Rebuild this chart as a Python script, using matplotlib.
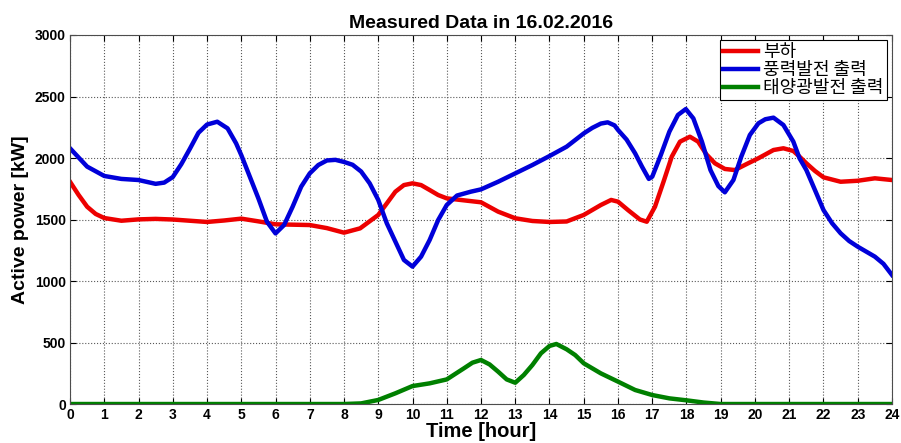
import numpy as np
import matplotlib
matplotlib.use('Agg')
import matplotlib.pyplot as plt

plt.rcParams['font.family'] = ['Liberation Sans', 'Noto Sans CJK KR', 'DejaVu Sans']

# load (부하)
load_t = [0, 0.25, 0.5, 0.75, 1, 1.5, 2, 2.5, 3, 3.5, 4, 4.5, 5, 5.5, 6, 6.5, 7,
          7.5, 8, 8.47, 9, 9.25, 9.5, 9.75, 10, 10.25, 10.5, 10.75, 11, 11.4, 12,
          12.5, 13, 13.5, 14, 14.5, 15, 15.5, 15.8, 16, 16.3, 16.64, 16.84, 17.08,
          17.33, 17.57, 17.81, 18.1, 18.34, 18.58, 18.83, 19.12, 19.41, 19.75,
          20.1, 20.54, 20.83, 21.12, 21.3, 21.5, 21.75, 22, 22.5, 23, 23.5, 24]
load_kw = [1807, 1700, 1604, 1545, 1512, 1490, 1501, 1505, 1500, 1490, 1480, 1492,
           1507, 1485, 1461, 1458, 1455, 1430, 1393, 1428, 1537, 1631, 1726, 1780,
           1794, 1780, 1740, 1699, 1672, 1659, 1640, 1564, 1510, 1488, 1480, 1484,
           1537, 1618, 1659, 1645, 1575, 1500, 1482, 1604, 1808, 2011, 2133, 2173,
           2133, 2030, 1957, 1911, 1902, 1950, 1998, 2065, 2079, 2057, 2011, 1957,
           1895, 1843, 1807, 1815, 1835, 1821]

# wind (풍력발전 출력)
wind_t = [0, 0.5, 1, 1.5, 2, 2.5, 2.75, 3, 3.25, 3.5, 3.75, 4, 4.3, 4.6, 4.85, 5,
          5.25, 5.5, 5.75, 6, 6.25, 6.5, 6.75, 7, 7.25, 7.5, 7.75, 8, 8.25, 8.5,
          8.75, 9, 9.25, 9.5, 9.75, 10, 10.25, 10.5, 10.75, 11, 11.3, 11.7, 12,
          12.5, 13, 13.5, 14, 14.5, 15, 15.25, 15.5, 15.7, 15.9, 16, 16.25, 16.5,
          16.7, 16.9, 17, 17.25, 17.5, 17.75, 17.98, 18.2, 18.45, 18.7, 18.93,
          19.12, 19.37, 19.6, 19.85, 20.1, 20.3, 20.54, 20.83, 21.12, 21.3, 21.5,
          21.75, 22, 22.25, 22.5, 22.75, 23, 23.5, 23.75, 24]
wind_kw = [2079, 1930, 1854, 1830, 1821, 1790, 1800, 1845, 1950, 2075, 2205, 2272,
           2295, 2241, 2119, 2024, 1848, 1672, 1482, 1387, 1455, 1604, 1767, 1875,
           1943, 1980, 1985, 1968, 1945, 1890, 1794, 1659, 1469, 1320, 1171, 1117,
           1198, 1333, 1496, 1618, 1695, 1726, 1745, 1807, 1875, 1943, 2016, 2092,
           2200, 2245, 2280, 2290, 2265, 2228, 2150, 2038, 1930, 1830, 1848, 2024,
           2214, 2350, 2398, 2322, 2133, 1902, 1772, 1721, 1821, 2011, 2187, 2282,
           2315, 2328, 2268, 2133, 1998, 1902, 1740, 1577, 1470, 1388, 1325, 1279,
           1198, 1140, 1049]

# solar (태양광발전 출력)
solar_t = [0, 1, 2, 3, 4, 5, 6, 7, 8, 8.5, 9, 9.5, 10, 10.5, 11, 11.5, 11.75, 12,
           12.25, 12.5, 12.75, 13, 13.25, 13.5, 13.75, 14, 14.2, 14.5, 14.75, 15,
           15.5, 16, 16.5, 17, 17.5, 18, 18.5, 19, 20, 21, 22, 23, 24]
solar_kw = [0, 0, 0, 0, 0, 0, 0, 0, 0, 5, 33, 87, 146, 168, 200, 290, 336, 358,
            322, 263, 200, 173, 236, 317, 412, 472, 488, 445, 398, 331, 249, 182,
            114, 73, 46, 30, 12, 0, 0, 0, 0, 0, 0]

labels = ['부하', '풍력발전 출력', '태양광발전 출력']
xticks = list(range(0, 25))
yticks = [0, 500, 1000, 1500, 2000, 2500, 3000]

fig = plt.figure(figsize=(9.01, 4.43), dpi=100)
ax = fig.add_axes([0.0777, 0.088, 0.9123, 0.833])

ax.plot(load_t, load_kw, color=(0.93, 0, 0), lw=3.2, label=labels[0], solid_joinstyle='round')
ax.plot(wind_t, wind_kw, color=(0, 0, 0.85), lw=3.2, label=labels[1], solid_joinstyle='round')
ax.plot(solar_t, solar_kw, color=(0, 0.5, 0), lw=3.2, label=labels[2], solid_joinstyle='round')

ax.set_xlim(0, 24)
ax.set_ylim(0, 3000)
ax.set_xticks(xticks)
ax.set_yticks(yticks)
ax.tick_params(direction='in', top=True, right=True, length=4, pad=3)
for lab in ax.get_xticklabels() + ax.get_yticklabels():
    lab.set_fontweight('bold')
    lab.set_fontsize(10)
ax.grid(True, linestyle=':', color='0.35', linewidth=0.8)
for s in ax.spines.values():
    s.set_color('0.3')

ax.set_xlabel('Time [hour]', fontsize=14.5, fontweight='bold', labelpad=0)
ax.set_ylabel('Active power [kW]', fontsize=14, fontweight='bold', labelpad=4)
ax.set_title('Measured Data in 16.02.2016', fontsize=14, fontweight='bold', pad=5)

leg = ax.legend(loc='upper right', prop={'family': ['Noto Sans CJK KR'], 'size': 13},
                fancybox=False, edgecolor='black', framealpha=1, handlelength=1.95,
                borderaxespad=0.3, labelspacing=0.0, handletextpad=0.3, borderpad=0.15)
leg.get_frame().set_linewidth(0.8)

fig.savefig('out.png', dpi=100)
